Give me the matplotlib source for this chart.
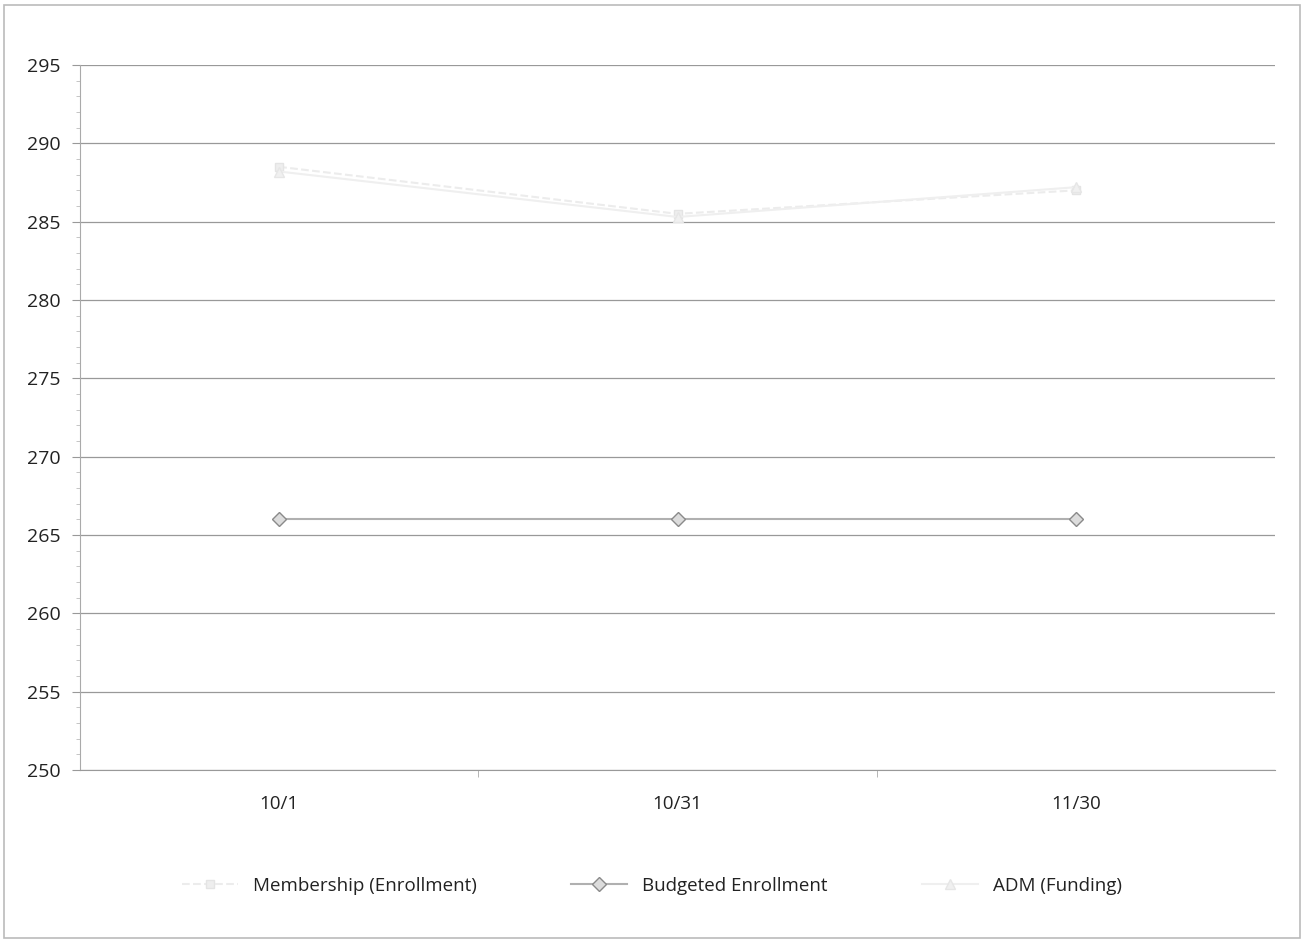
import numpy as np
import matplotlib.pyplot as plt
from matplotlib.ticker import MultipleLocator

plt.rcParams['font.family'] = ['Open Sans', 'DejaVu Sans']
plt.rcParams['text.color'] = '#222222'

dates = ['10/1', '10/31', '11/30']
membership = [288.5, 285.5, 287.0]
budgeted = [266, 266, 266]
adm = [288.2, 285.3, 287.2]

fig = plt.figure(figsize=(13.04, 9.41), dpi=100)
ax = fig.add_axes([80/1304, 1 - 770/941, 1195/1304, 705/941])

x = np.arange(len(dates)) + 0.5
ax.plot(x, membership, color='#ececec', lw=1.5, ls='--', marker='s', ms=6,
        mfc='#eeeeee', mec='#e4e4e4', label='Membership (Enrollment)')
ax.plot(x, budgeted, color='#b0b0b0', lw=1.5, marker='D', ms=7,
        mfc='#dcdcdc', mec='#8a8a8a', label='Budgeted Enrollment')
ax.plot(x, adm, color='#efefef', lw=1.5, marker='^', ms=7,
        mfc='#f0f0f0', mec='#e6e6e6', label='ADM (Funding)')

ax.set_xlim(0, 3)
ax.set_ylim(250, 295)
ax.set_yticks(np.arange(250, 296, 5))
ax.yaxis.set_minor_locator(MultipleLocator(1))
ax.set_xticks(x)
ax.set_xticklabels(dates)
ax.set_xticks([1, 2], minor=True)
ax.tick_params(axis='x', which='major', length=0, pad=18, labelsize=13.5,
               labelcolor='#222222')
ax.tick_params(axis='x', which='minor', length=5, color='#aaaaaa')
ax.tick_params(axis='y', which='major', length=6, color='#999999', labelsize=14,
               pad=8, labelcolor='#222222')
ax.tick_params(axis='y', which='minor', length=3, color='#bbbbbb')
ax.grid(axis='y', color='#999999', lw=0.9)
for s in ['top', 'right']:
    ax.spines[s].set_visible(False)
ax.spines['left'].set_color('#aaaaaa')
ax.spines['bottom'].set_color('#999999')

fig.legend(loc='center', bbox_to_anchor=(0.5, 1 - 886/941), ncol=3, frameon=False,
           fontsize=13.5, columnspacing=5, handlelength=3)

border = plt.Rectangle((0.003, 0.003), 0.994, 0.992, transform=fig.transFigure,
                       fill=False, ec='#bbbbbb', lw=1.2)
fig.patches.append(border)

fig.savefig('out.png', dpi=100)
